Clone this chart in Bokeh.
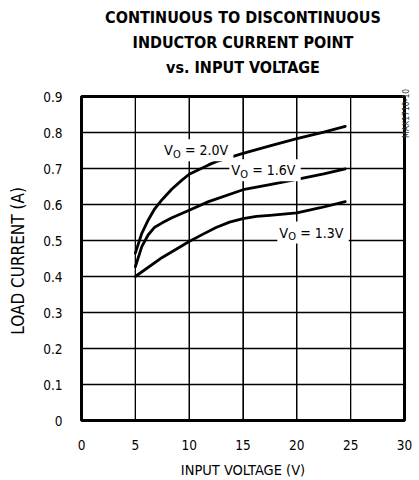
import math
from bokeh.plotting import figure
from bokeh.models import Range1d, FixedTicker, Label, Title, LinearAxis
from bokeh.embed import file_html
from bokeh.resources import INLINE

# ---- data ----
x_20 = [5, 5.6, 6.2, 6.8, 7.5, 8.4, 9.3, 10, 11.8, 12.5, 15, 17.5, 20, 22.5, 24.5]
y_20 = [0.465, 0.520, 0.557, 0.588, 0.614, 0.643, 0.667, 0.684, 0.710, 0.719, 0.742, 0.763, 0.783, 0.801, 0.817]
x_16 = [5, 5.6, 6.2, 6.8, 7.5, 8.4, 10, 11.8, 15, 17.5, 20, 22.5, 24.5]
y_16 = [0.427, 0.483, 0.516, 0.537, 0.549, 0.563, 0.584, 0.608, 0.641, 0.655, 0.670, 0.685, 0.699]
x_13 = [5, 7.5, 10, 11.25, 12.5, 13.75, 15, 16.25, 17.5, 20, 22.2, 24.5]
y_13 = [0.400, 0.453, 0.497, 0.517, 0.536, 0.551, 0.561, 0.567, 0.570, 0.577, 0.591, 0.608]

series_labels = ["2.0V", "1.6V", "1.3V"]
label_pos_x = [7.66, 13.91, 18.37]
label_pos_y = [0.751, 0.695, 0.522]

title_lines = ["CONTINUOUS TO DISCONTINUOUS", "INDUCTOR CURRENT POINT", "vs. INPUT VOLTAGE"]

x_ticks = [0, 5, 10, 15, 20, 25, 30]
y_ticks = [0, 0.1, 0.2, 0.3, 0.4, 0.5, 0.6, 0.7, 0.8, 0.9]

NOTE = "MAX1710-10"
NOTE_POS = 0.785

FONT = "'DejaVu Sans Condensed', 'Liberation Sans', sans-serif"

X0, X1 = x_ticks[0], x_ticks[-1]
Y0, Y1 = y_ticks[0], y_ticks[-1]

p = figure(width=419, height=480, output_backend="svg", toolbar_location=None,
           x_range=Range1d(X0, X1), y_range=Range1d(Y0, Y1),
           min_border_left=81, min_border_right=13, min_border_top=96, min_border_bottom=59)
p.title.visible = False

# spacer between frame and title block, then the title lines (nearest first)
p.add_layout(Title(text=" ", text_font_size="1px", standoff=15), "above")
for t in reversed(title_lines):
    p.add_layout(Title(text=t, align="center", text_font=FONT, text_font_style="bold",
                       text_font_size="16px", text_color="black", standoff=4), "above")

p.outline_line_color = "black"
p.outline_line_width = 3

for ax, ticks in ((p.xaxis[0], x_ticks), (p.yaxis[0], y_ticks)):
    ax.ticker = FixedTicker(ticks=ticks)
    ax.axis_line_color = None
    ax.major_tick_line_color = None
    ax.minor_tick_line_color = None
    ax.major_tick_in = 0
    ax.major_tick_out = 0
    ax.major_label_text_font = FONT
    ax.major_label_text_font_size = "13.5px"
    ax.major_label_text_color = "black"
    ax.axis_label_text_font = FONT
    ax.axis_label_text_font_style = "normal"
    ax.axis_label_text_color = "black"

p.xaxis.axis_label_text_font_size = "14.5px"
p.yaxis.axis_label_text_font_size = "17px"
p.yaxis.major_label_overrides = {0: "0"}
p.xaxis.axis_label = "INPUT VOLTAGE (V)"
p.yaxis.axis_label = "LOAD CURRENT  (A)"
p.xaxis.major_label_standoff = 19
p.yaxis.major_label_standoff = 19
p.xaxis.axis_label_standoff = 9
p.yaxis.axis_label_standoff = 12

# part-number note on the right edge, reading upwards
note_axis = LinearAxis(ticker=FixedTicker(ticks=[NOTE_POS]), major_label_overrides={NOTE_POS: NOTE},
                       axis_line_color=None, major_tick_line_color=None, minor_tick_line_color=None,
                       major_tick_in=0, major_tick_out=0, major_label_standoff=2,
                       major_label_orientation=math.pi / 2, major_label_text_font=FONT,
                       major_label_text_font_size="8.5px", major_label_text_color="#333333")
p.add_layout(note_axis, "right")

p.xgrid.grid_line_color = "black"
p.ygrid.grid_line_color = "black"
p.xgrid.grid_line_width = 1
p.ygrid.grid_line_width = 1

# grid lines from the tick positions (drawn as glyphs too)
p.segment(x0=x_ticks, y0=[Y0] * len(x_ticks), x1=x_ticks, y1=[Y1] * len(x_ticks),
          line_color="black", line_width=1.3)
p.segment(x0=[X0] * len(y_ticks), y0=y_ticks, x1=[X1] * len(y_ticks), y1=y_ticks,
          line_color="black", line_width=1.3)

for xs, ys in ((x_20, y_20), (x_16, y_16), (x_13, y_13)):
    p.line(xs, ys, line_color="black", line_width=2.8, line_join="round", line_cap="round")

# curve labels  V_O = ...
for lab, lx, ly in zip(series_labels, label_pos_x, label_pos_y):
    p.add_layout(Label(x=lx, y=ly, text="VO = " + lab, text_font=FONT, text_font_size="14px",
                       text_color="white", text_baseline="middle", x_offset=-2,
                       background_fill_color="white", padding=3))
    p.add_layout(Label(x=lx, y=ly, text="V", text_font=FONT, text_font_size="14.5px",
                       text_color="black", text_baseline="middle"))
    p.add_layout(Label(x=lx, y=ly, text="O", text_font=FONT, text_font_size="11px",
                       text_color="black", text_baseline="middle", x_offset=9, y_offset=-4))
    p.add_layout(Label(x=lx, y=ly, text="= " + lab, text_font=FONT, text_font_size="14px",
                       text_color="black", text_baseline="middle", x_offset=21))

open("out.html", "w").write(file_html(p, INLINE))
